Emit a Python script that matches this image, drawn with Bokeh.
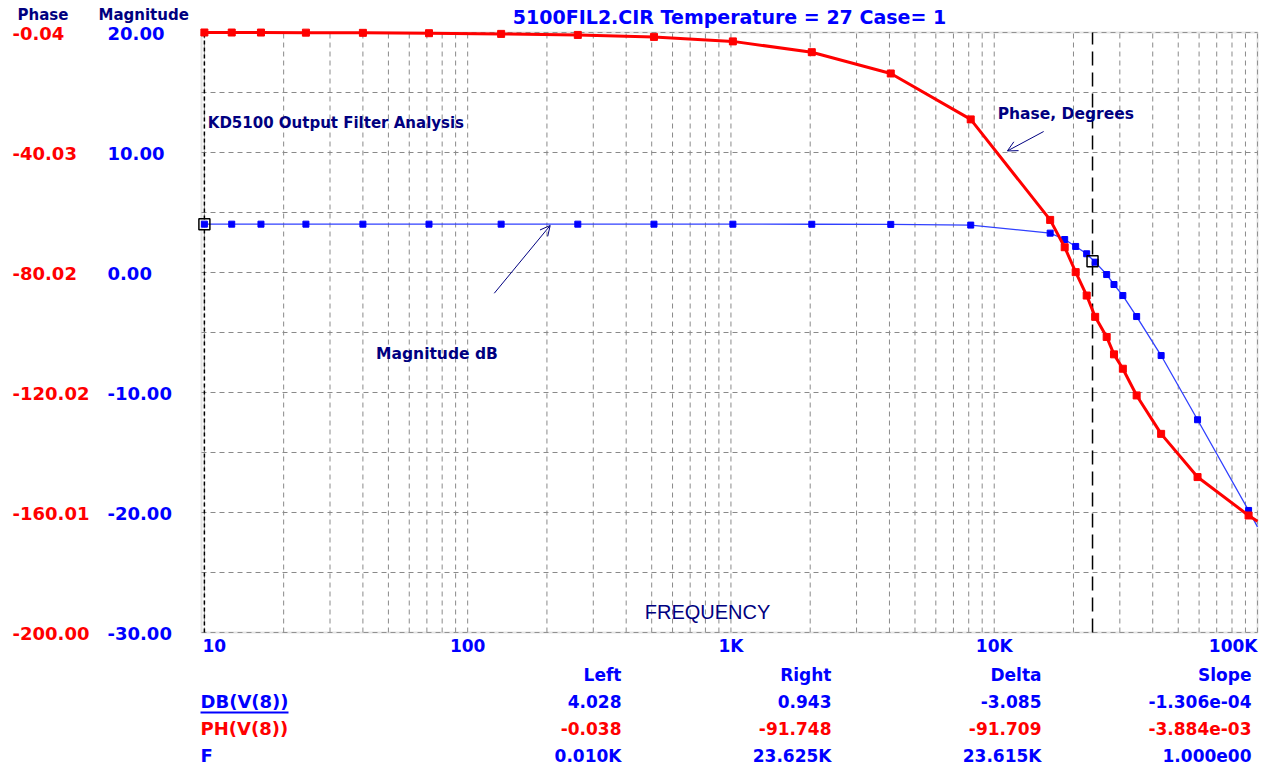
import math
from bokeh.plotting import figure
from bokeh.models import Range1d, Label, Arrow, OpenHead, BoxAnnotation
from bokeh.embed import file_html
from bokeh.resources import INLINE

# ---------------- data ----------------
freq_hz = [10, 12.7, 16.4, 24.3, 40.0, 71.3, 134, 262, 510, 1017, 2028, 4046, 8142,
           16310, 18520, 20390, 22450, 24180, 26740, 28500, 30800, 34750, 43050,
           59200, 92500, 100000]
mag_db = [4.028, 4.028, 4.028, 4.028, 4.028, 4.028, 4.028, 4.028, 4.027, 4.025, 4.02,
          4.01, 3.95, 3.28, 2.75, 2.17, 1.56, 0.86, -0.17, -1.0, -1.92, -3.67, -6.92,
          -12.27, -19.83, -21.2]
phase_deg = [-0.038, -0.05, -0.06, -0.09, -0.15, -0.27, -0.5, -0.85, -1.5, -3.0, -6.6,
             -13.7, -29.0, -62.5, -71.6, -79.9, -87.7, -94.8, -101.5, -107.3, -112.1,
             -121.0, -133.8, -148.2, -161.0, -162.9]
n_markers = 25  # last point is the edge of the sweep shown, no marker

x_ticks = [10, 100, 1000, 10000, 100000]
x_tick_labels = ["10", "100", "1K", "10K", "100K"]
x_grid = [k * 10 ** e for e in range(1, 5) for k in range(1, 10)] + [100000]

mag_ticks = [20, 10, 0, -10, -20, -30]
mag_tick_labels = ["20.00", "10.00", "0.00", "-10.00", "-20.00", "-30.00"]
mag_grid = [20, 15, 10, 5, 0, -5, -10, -15, -20, -25, -30]
phase_ticks = [-0.04, -40.03, -80.02, -120.02, -160.01, -200.0]
phase_tick_labels = ["-0.04", "-40.03", "-80.02", "-120.02", "-160.01", "-200.00"]

cursor_left_f, cursor_left_db = 10, 4.028
cursor_right_f, cursor_right_db = 23625, 0.943

table_cols = ["Left", "Right", "Delta", "Slope"]
table_rows = ["DB(V(8))", "PH(V(8))", "F"]
table_values = [["4.028", "0.943", "-3.085", "-1.306e-04"],
                ["-0.038", "-91.748", "-91.709", "-3.884e-03"],
                ["0.010K", "23.625K", "23.615K", "1.000e00"]]

title_text = "5100FIL2.CIR Temperature = 27 Case= 1"

# ---------------- layout / styles ----------------
RED = "#ff0000"
BLUE = "#0000ff"
NAVY = "#000080"
FONT = "DejaVu Sans"
W, H = 1267, 769
# plot box inside the canvas (pixels)
BOX_L, BOX_R, BOX_T, BOX_B = 201, 1257, 32, 632
F0, F1 = 9.75, 100000.0         # frequency span of the plot box
M0, M1 = -30.0, 20.0            # magnitude span
P0, P1 = -200.0, -0.04          # phase span

dec_px = (BOX_R - BOX_L) / math.log10(F1 / F0)
x_lo = 10 ** (math.log10(F0) - BOX_L / dec_px)
x_hi = 10 ** (math.log10(F1) + (W - BOX_R) / dec_px)
db_px = (BOX_B - BOX_T) / (M1 - M0)
y_lo, y_hi = M0 - (H - BOX_B) / db_px, M1 + BOX_T / db_px
ph_px = (BOX_B - BOX_T) / (P1 - P0)
p_lo, p_hi = P0 - (H - BOX_B) / ph_px, P1 + BOX_T / ph_px

p = figure(width=W, height=H, x_axis_type="log",
           x_range=Range1d(x_lo, x_hi), y_range=Range1d(y_lo, y_hi),
           x_axis_location=None, y_axis_location=None, title=None,
           output_backend="svg", toolbar_location=None, min_border=0)
p.extra_y_ranges = {"phase": Range1d(p_lo, p_hi)}
p.background_fill_color = "white"
p.border_fill_color = "white"
p.outline_line_color = None
p.xgrid.visible = False
p.ygrid.visible = False

# grid (dashed gray) limited to the plot box
GRID = "#8a8a8a"
p.segment(x0=x_grid, y0=[M0] * len(x_grid), x1=x_grid, y1=[M1] * len(x_grid),
          line_color=GRID, line_dash="5 4", line_width=1, level="underlay")
p.segment(x0=[F0] * len(mag_grid), y0=mag_grid, x1=[F1] * len(mag_grid), y1=mag_grid,
          line_color=GRID, line_dash="5 4", line_width=1, level="underlay")
# plot box border
p.add_layout(BoxAnnotation(left=F0, right=F1, bottom=M0, top=M1, fill_color=None,
                           line_color="#a4a4a4", line_width=2, level="underlay"))

# cursors
p.segment(x0=[cursor_left_f], y0=[M0], x1=[cursor_left_f], y1=[M1],
          line_color="black", line_dash="4 3", line_width=1.5)
p.segment(x0=[cursor_right_f], y0=[M0], x1=[cursor_right_f], y1=[M1],
          line_color="black", line_dash="14 7", line_width=1.5)

# curves
p.line(freq_hz, mag_db, line_color="#3040ff", line_width=1.3)
p.scatter(freq_hz[:n_markers], mag_db[:n_markers], marker="square", size=6,
          fill_color=BLUE, line_color=BLUE)
p.line(freq_hz, phase_deg, y_range_name="phase", line_color=RED, line_width=3)
p.scatter(freq_hz[:n_markers], phase_deg[:n_markers], y_range_name="phase",
          marker="square", size=7, fill_color=RED, line_color=RED)

# cursor markers
p.scatter([cursor_left_f, cursor_right_f], [cursor_left_db, cursor_right_db],
          marker="square", size=11, fill_color=None, line_color="black",
          line_width=1.5)


def text(t, x, y, dx=0, dy=0, color=NAVY, size="15px", align="left",
         baseline="middle", style="bold", font=FONT, yr="default"):
    p.add_layout(Label(x=x, y=y, x_offset=dx, y_offset=dy, text=t,
                       text_color=color, text_font_size=size, text_align=align,
                       text_baseline=baseline, text_font_style=style,
                       text_font=font, y_range_name=yr))


def ptext(t, px, py, **kw):
    """text placed at canvas pixel (px, py) measured from the top-left corner"""
    text(t, x_lo, y_hi, dx=px, dy=-py, **kw)


# x tick labels under the box
for t, s in zip(x_ticks, x_tick_labels):
    al = "left" if t == x_ticks[0] else ("right" if t == x_ticks[-1] else "center")
    dx = -2 if al == "left" else 0
    text(s, t, M0, dx=dx, dy=-13, color=BLUE, size="17px", align=al)

# y tick labels (left side, left aligned)
for t, s in zip(phase_ticks, phase_tick_labels):
    text(s, x_lo, t, dx=12, dy=-1, color=RED, size="18px", yr="phase")
for t, s in zip(mag_ticks, mag_tick_labels):
    text(s, x_lo, t, dx=107, dy=-1, color=BLUE, size="18px")

# headers and title
ptext("Phase", 17, 14, color=NAVY, size="15px")
ptext("Magnitude", 98, 14, color=NAVY, size="15px")
ptext(title_text, 729, 16, color=BLUE, size="19px", align="center")

# annotations inside plot
text("KD5100 Output Filter Analysis", 10.3, 12.5, color=NAVY, size="15px")
text("Phase, Degrees", 10310, 13.25, color=NAVY, size="15.5px")
text("Magnitude dB", 44.9, -6.75, color=NAVY, size="15.5px")
ptext("FREQUENCY", 707, 611, color=NAVY, size="20px", align="center",
      style="normal", font="Liberation Sans")

p.add_layout(Arrow(end=OpenHead(size=10, line_color=NAVY, line_width=1),
                   x_start=15410, y_start=11.75, x_end=11220, y_end=10.13,
                   line_color=NAVY, line_width=1))
p.add_layout(Arrow(end=OpenHead(size=10, line_color=NAVY, line_width=1),
                   x_start=126.2, y_start=-1.73, x_end=205.8, y_end=3.92,
                   line_color=NAVY, line_width=1))

# cursor table below the plot
col_px = [621, 831, 1041, 1251]
row_py = [674, 701, 728, 755]
row_colors = [BLUE, RED, BLUE]
for c, px in zip(table_cols, col_px):
    ptext(c, px, row_py[0], color=BLUE, size="17px", align="right")
for r, (name, vals, col) in enumerate(zip(table_rows, table_values, row_colors)):
    py = row_py[r + 1]
    ptext(name, 200, py, color=col, size="18px")
    for v, px in zip(vals, col_px):
        ptext(v, px, py, color=col, size="17px", align="right")

# underline of the first trace name
p.add_layout(BoxAnnotation(left=200, right=288, top=H - 711, bottom=H - 713,
                           left_units="screen", right_units="screen",
                           top_units="screen", bottom_units="screen",
                           fill_color=BLUE, fill_alpha=1, line_color=None))

open("out.html", "w").write(file_html(p, INLINE))
